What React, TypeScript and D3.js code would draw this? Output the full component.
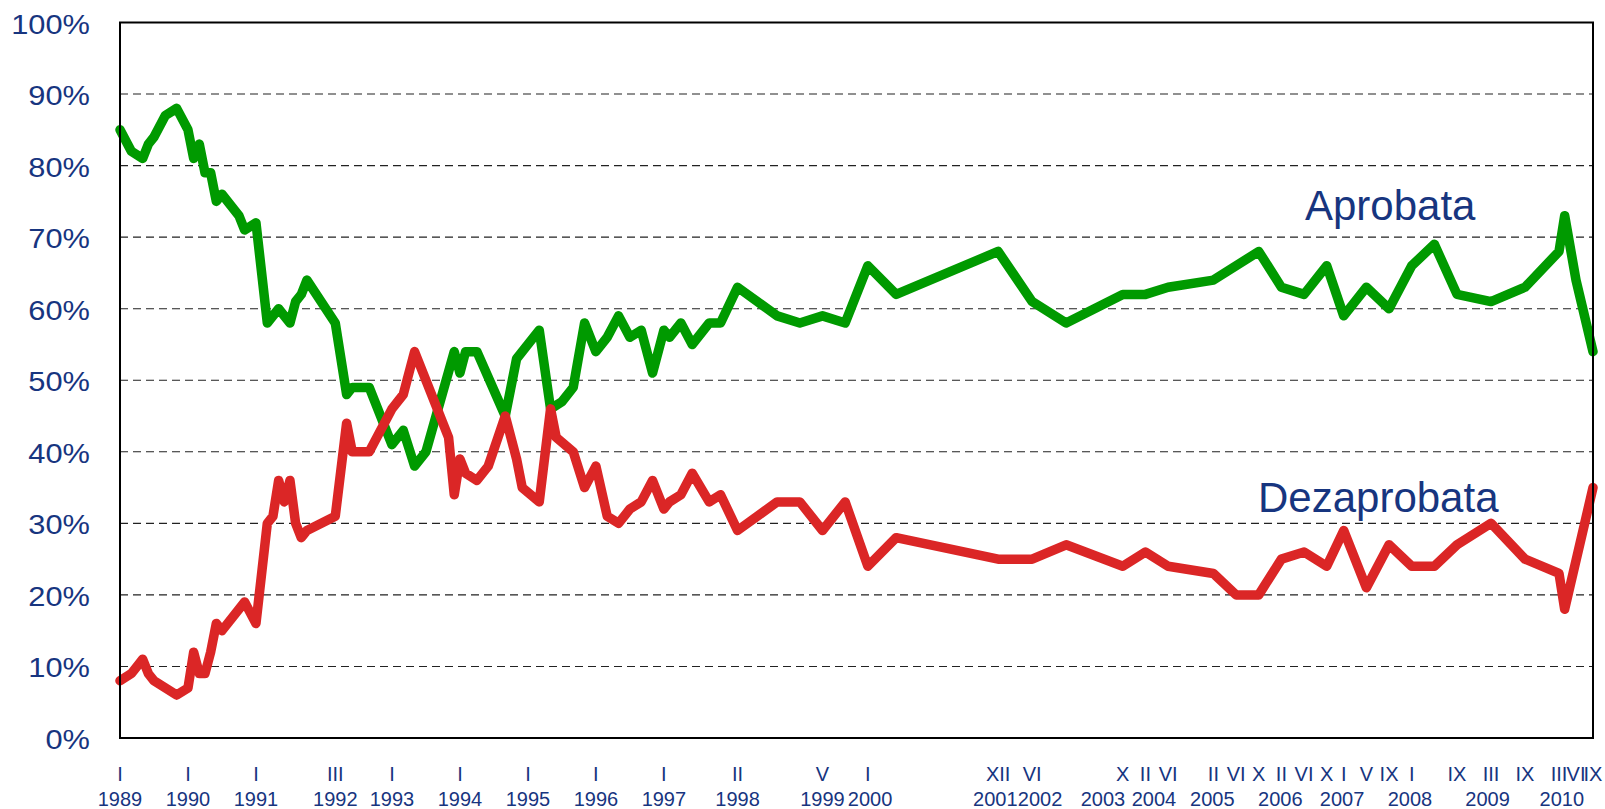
import * as d3 from "d3";

// ── Layout ────────────────────────────────────────────────
const W = 1605;
const H = 809;
const plot = { left: 120, top: 22.5, right: 1593, bottom: 738 };

const FONT = "'Liberation Sans', Arial, sans-serif";
const TEXT = "#17357f";
const GREEN = "#009a00";
const RED = "#db2626";

// ── Data (survey month, % share) ──────────────────────────
const approveDates = [
  "1989-01", "1989-03", "1989-05", "1989-06", "1989-07", "1989-09", "1989-11",
  "1990-01", "1990-02", "1990-03", "1990-04", "1990-05", "1990-06", "1990-07",
  "1990-10", "1990-11", "1991-01", "1991-03", "1991-05", "1991-07", "1991-08",
  "1991-09", "1991-10", "1992-03", "1992-05", "1992-06", "1992-09", "1993-01",
  "1993-03", "1993-05", "1993-07", "1993-12", "1994-01", "1994-02", "1994-04",
  "1994-09", "1994-11", "1995-03", "1995-05", "1995-07", "1995-09", "1995-11",
  "1996-01", "1996-03", "1996-05", "1996-07", "1996-09", "1996-11", "1997-01",
  "1997-02", "1997-04", "1997-06", "1997-09", "1997-11", "1998-02", "1998-09",
  "1999-01", "1999-05", "1999-09", "2000-01", "2000-06", "2001-12", "2002-06",
  "2002-12", "2003-10", "2004-02", "2004-06", "2005-02", "2005-10", "2006-02",
  "2006-06", "2006-10", "2007-01", "2007-05", "2007-09", "2008-01", "2008-05",
  "2008-09", "2009-03", "2009-09", "2010-03", "2010-04", "2010-06", "2010-09",
];
const approveValues = [
  85, 82, 81, 83, 84, 87, 88,
  85, 81, 83, 79, 79, 75, 76,
  73, 71, 72, 58, 60, 58, 61,
  62, 64, 58, 48, 49, 49, 41,
  43, 38, 40, 54, 51, 54, 54,
  45, 53, 57, 46, 47, 49, 58,
  54, 56, 59, 56, 57, 51, 57,
  56, 58, 55, 58, 58, 63, 59,
  58, 59, 58, 66, 62, 68, 61,
  58, 62, 62, 63, 64, 68, 63,
  62, 66, 59, 63, 60, 66, 69,
  62, 61, 63, 68, 73, 64, 54,
];

const disapproveDates = [
  "1989-01", "1989-03", "1989-05", "1989-06", "1989-07", "1989-11", "1990-01",
  "1990-02", "1990-03", "1990-04", "1990-05", "1990-06", "1990-07", "1990-11",
  "1991-01", "1991-03", "1991-04", "1991-05", "1991-06", "1991-07", "1991-08",
  "1991-09", "1991-10", "1992-03", "1992-05", "1992-06", "1992-09", "1993-01",
  "1993-03", "1993-05", "1993-11", "1993-12", "1994-01", "1994-02", "1994-04",
  "1994-06", "1994-09", "1994-11", "1994-12", "1995-03", "1995-05", "1995-06",
  "1995-09", "1995-11", "1996-01", "1996-03", "1996-05", "1996-07", "1996-09",
  "1996-11", "1997-01", "1997-02", "1997-04", "1997-06", "1997-09", "1997-11",
  "1998-02", "1998-09", "1999-01", "1999-05", "1999-09", "2000-01", "2000-06",
  "2001-12", "2002-06", "2002-12", "2003-10", "2004-02", "2004-06", "2005-02",
  "2005-06", "2005-10", "2006-02", "2006-06", "2006-10", "2007-01", "2007-05",
  "2007-09", "2008-01", "2008-05", "2008-09", "2009-03", "2009-09", "2010-03",
  "2010-04", "2010-09",
];
const disapproveValues = [
  8, 9, 11, 9, 8, 6, 7,
  12, 9, 9, 12, 16, 15, 19,
  16, 30, 31, 36, 33, 36, 30,
  28, 29, 31, 44, 40, 40, 46,
  48, 54, 42, 34, 39, 37, 36,
  38, 45, 39, 35, 33, 46, 42,
  40, 35, 38, 31, 30, 32, 33,
  36, 32, 33, 34, 37, 33, 34,
  29, 33, 33, 29, 33, 24, 28,
  25, 25, 27, 24, 26, 24, 23,
  20, 20, 25, 26, 24, 29, 21,
  27, 24, 24, 27, 30, 25, 23,
  18, 35,
];

// ── Axis labels ───────────────────────────────────────────
const ROMAN = ["I", "II", "III", "IV", "V", "VI", "VII", "VIII", "IX", "X", "XI", "XII"];
const monthTicks = [
  "1989-01", "1990-01", "1991-01", "1992-03", "1993-01", "1994-01", "1995-01",
  "1996-01", "1997-01", "1998-02", "1999-05", "2000-01", "2001-12", "2002-06",
  "2003-10", "2004-02", "2004-06", "2005-02", "2005-06", "2005-10", "2006-02",
  "2006-06", "2006-10", "2007-01", "2007-05", "2007-09", "2008-01", "2008-09",
  "2009-03", "2009-09", "2010-03", "2010-06", "2010-09",
];
const yearLabels = [1989, 1990, 1991, 1992, 1993, 1994, 1995, 1996, 1997, 1998, 1999,
  2000, 2001, 2002, 2003, 2004, 2005, 2006, 2007, 2008, 2009, 2010];
// where each year label sits, in months since I 1989
const yearLabelPos = [0, 12, 24, 38, 48, 60, 72, 84, 96, 109, 124,
  132.4, 154.5, 162.4, 173.5, 182.5, 192.8, 204.8, 215.7, 227.7, 241.4, 254.5];
const yTicks = [0, 10, 20, 30, 40, 50, 60, 70, 80, 90, 100];

const START_YEAR = 1989;
function monthIndex(s: string) {
  const [yy, mm] = s.split("-").map(Number);
  return (yy - START_YEAR) * 12 + (mm - 1);
}

// ── Scales ────────────────────────────────────────────────
const x = d3.scaleLinear()
  .domain([monthIndex(approveDates[0]), monthIndex(approveDates[approveDates.length - 1])])
  .range([plot.left, plot.right]);
const y = d3.scaleLinear().domain([0, 100]).range([plot.bottom, plot.top]);

const line = d3.line<[string, number]>()
  .x(d => x(monthIndex(d[0])))
  .y(d => y(d[1]));

const approvePath = line(approveDates.map((d, i) => [d, approveValues[i]] as [string, number])) || "";
const disapprovePath = line(disapproveDates.map((d, i) => [d, disapproveValues[i]] as [string, number])) || "";

export default function App() {
  return (
    <svg width={W} height={H} viewBox={`0 0 ${W} ${H}`}
      style={{ position: "absolute", left: 0, top: 0, background: "#fff" }}>
      <rect x={0} y={0} width={W} height={H} fill="#fff" />

      {/* gridlines */}
      {yTicks.filter(t => t > 0 && t < 100).map(t => (
        <line key={t} x1={plot.left} x2={plot.right} y1={y(t)} y2={y(t)}
          stroke="#222" strokeWidth={1.1} strokeDasharray="8 5" />
      ))}

      {/* y labels — the source font runs a little wide */}
      {yTicks.map(t => (
        <text key={t} transform={`translate(90,${y(t) + 11}) scale(1.1,1)`}
          textAnchor="end" fontFamily={FONT} fontSize={28} fill={TEXT}>
          {t}%
        </text>
      ))}

      {/* series */}
      <path d={approvePath} fill="none" stroke={GREEN} strokeWidth={9.5}
        strokeLinejoin="round" strokeLinecap="round" />
      <path d={disapprovePath} fill="none" stroke={RED} strokeWidth={9.5}
        strokeLinejoin="round" strokeLinecap="round" />

      {/* frame */}
      <rect x={plot.left} y={plot.top} width={plot.right - plot.left}
        height={plot.bottom - plot.top} fill="none" stroke="#000" strokeWidth={2} />

      {/* x labels */}
      {monthTicks.map(d => (
        <text key={d} x={x(monthIndex(d))} y={781} textAnchor="middle"
          fontFamily={FONT} fontSize={20} fill={TEXT}>
          {ROMAN[+d.split("-")[1] - 1]}
        </text>
      ))}
      {yearLabels.map((yr, i) => (
        <text key={yr} x={x(yearLabelPos[i])} y={806} textAnchor="middle"
          fontFamily={FONT} fontSize={20} fill={TEXT}>
          {yr}
        </text>
      ))}

      {/* series names */}
      <text x={1305} y={220} fontFamily={FONT} fontSize={42} fill={TEXT}>Aprobata</text>
      <text x={1258} y={512} fontFamily={FONT} fontSize={42} fill={TEXT}>Dezaprobata</text>
    </svg>
  );
}
